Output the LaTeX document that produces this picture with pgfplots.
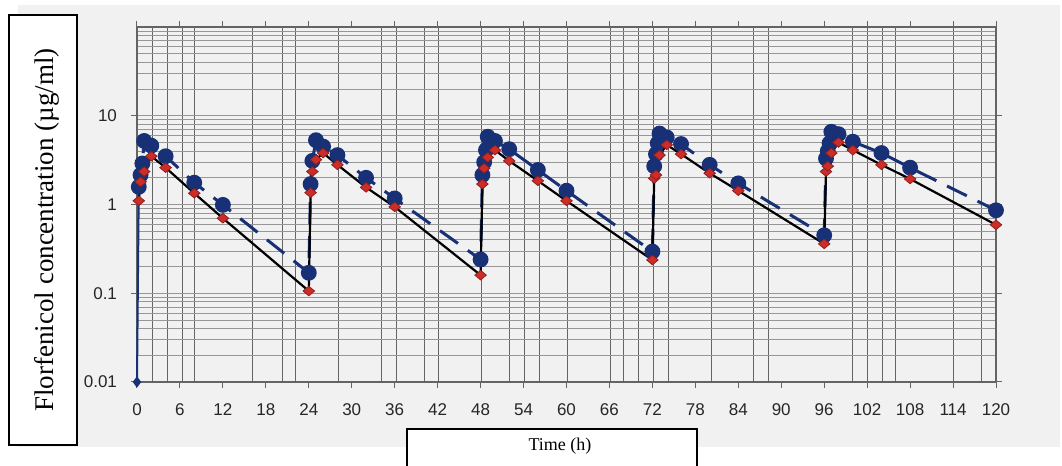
\documentclass[border=0pt]{standalone}
\usepackage{pgfplots}
\pgfplotsset{compat=1.18}
\usepackage{fontspec}
\setmainfont{Liberation Serif}
\setsansfont{Liberation Sans}

\definecolor{navy}{RGB}{24,48,118}
\definecolor{dred}{RGB}{205,45,40}
\definecolor{scan}{RGB}{241,241,241}
\definecolor{gridv}{RGB}{100,100,100}
\definecolor{gridh}{RGB}{150,150,150}

\begin{document}
\begin{tikzpicture}[x=0.5pt,y=0.5pt]
\useasboundingbox (0,0) rectangle (1062,466);
\fill[scan] (18,19) rectangle (1060,461);
\begin{axis}[
  at={(68.5pt,42pt)}, anchor=south west,
  scale only axis, width=429.5pt, height=177.5pt,
  xmin=0, xmax=120,
  ymode=log, ymin=0.01, ymax=100,
  clip=false,
  xtick={0,6,...,120},
  minor xtick={2.2,4.3,6.3,8.1,16.2,20.3,22.2,28.2,34.2,36.2,40.1,42.1,48.1,52.1,54.1,56.2,60.1,66.1,68,70.1,72.2,74.2,80.2,86.1,88.2,100,102.1,104.1,106,114.1,118},
  ytick={0.01,0.1,1,10},
  yticklabels={0.01,0.1,1,10},
  minor ytick={0.02,0.03,0.04,0.05,0.06,0.07,0.08,0.09,0.2,0.3,0.4,0.5,0.6,0.7,0.8,0.9,2,3,4,5,6,7,8,9,20,30,40,50,60,70,80,90},
  xmajorgrids=false, xminorgrids=true,
  ymajorgrids=true, yminorgrids=true,
  major y grid style={gridh, line width=0.5pt},
  minor y grid style={gridh, line width=0.4pt},
  minor x grid style={gridv, line width=0.5pt},
  axis line style={gridv, line width=0.6pt},
  tick align=outside,
  major tick length=3pt, minor tick length=0pt,
  tick style={gridv, line width=0.5pt},
  /pgf/number format/assume math mode=true,
  ticklabel style={font=\sffamily\fontsize{8.5}{10}\selectfont, text=black!85},
  xticklabel style={yshift=-4.5pt},
  yticklabel style={xshift=-3.5pt},
]
% first dose starts from the baseline
\addplot[navy, line width=1pt, mark=diamond*, mark size=2pt, mark indices={1},
  mark options={fill=navy, draw=navy}]
  coordinates {(0,0.01) (0.25,1.58)};

% dashed blue series
\addplot[navy, line width=1.5pt, dash pattern=on 11pt off 6pt,
  mark=*, mark size=3.2pt, mark options={solid, fill=navy, draw=navy}]
  coordinates {
  (0.25,1.58) (0.5,2.15) (0.75,2.9) (1,5.2) (2,4.6) (4,3.5) (8,1.76) (12,0.99) (24,0.17)
  (24.25,1.7) (24.5,3.1) (25,5.3) (26,4.5) (28,3.6) (32,2.0) (36,1.17) (48,0.24)
  (48.25,2.15) (48.5,3.0) (48.75,4.1) (49,5.8) (50,5.2) (52,4.2) (56,2.45) (60,1.43) (72,0.295)
  (72.25,2.7) (72.5,3.7) (72.75,4.9) (73,6.3) (74,5.7) (76,4.8) (80,2.8) (84,1.73) (96,0.45)
  (96.25,3.3) (96.5,4.0) (96.75,4.9) (97,6.6) (98,6.2) (100,5.1) (104,3.8) (108,2.6) (120,0.86)
  };

% solid black line, red diamonds
\addplot[black, line width=1.1pt, mark=diamond*, mark size=2.4pt,
  mark options={fill=dred, draw=dred!70!black, line width=0.4pt, xscale=1.6}]
  coordinates {
  (0.25,1.1) (0.5,1.8) (1,2.35) (2,3.5) (4,2.6) (8,1.34) (12,0.70) (24,0.106)
  (24.25,1.36) (24.5,2.35) (25,3.2) (26,3.8) (28,2.8) (32,1.56) (36,0.94) (48,0.16)
  (48.25,1.70) (48.5,2.56) (49,3.4) (50,4.1) (52,3.1) (56,1.85) (60,1.10) (72,0.237)
  (72.25,1.97) (72.5,2.15) (73,3.6) (74,4.7) (76,3.7) (80,2.25) (84,1.43) (96,0.36)
  (96.25,2.35) (96.5,2.7) (97,3.8) (98,5.0) (100,4.1) (104,2.8) (108,1.94) (120,0.59)
  };
\end{axis}

\draw[line width=1pt, fill=white] (9,21) rectangle (77,451);
\node[rotate=90, font=\fontsize{13.5}{16}\selectfont] at (47,236)
  {Florfenicol concentration (µg/ml)};

\draw[line width=1pt, fill=white] (407,-10) rectangle (697,37);
\node[font=\fontsize{9}{11}\selectfont] at (560,20) {Time (h)};
\end{tikzpicture}
\end{document}
